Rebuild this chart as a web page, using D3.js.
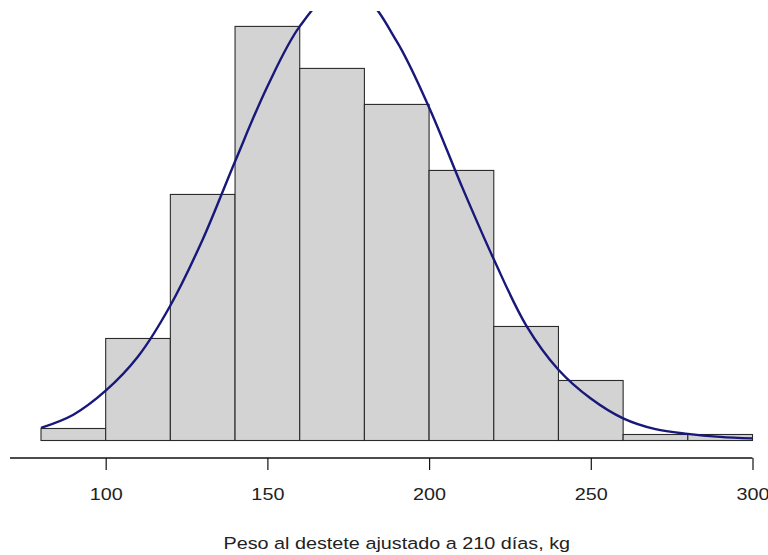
<!DOCTYPE html>
<html>
<head>
<meta charset="utf-8">
<script src="https://cdn.jsdelivr.net/npm/d3@7"></script>
<style>
  body { margin: 0; background: #fff; }
  svg { display: block; }
</style>
</head>
<body>
<div id="chart"></div>
<script>
// Histogram bins (kg) and counts
const binEdges = [80, 100, 120, 140, 160, 180, 200, 220, 240, 260, 280, 300];
const binCounts = [2, 17, 41, 69, 62, 56, 45, 19, 10, 1, 1];

const curveX = [80, 90, 100, 110, 120, 130, 140, 150, 160, 170, 180, 190, 200, 210, 220, 230, 240, 250, 260, 270, 280, 290, 300];
const curveY = [2.1, 4.3, 8.3, 14, 22.5, 33.5, 46.5, 59, 69, 74.5, 73.8, 66.5, 55.5, 42.5, 30.2, 19.2, 11.8, 7.0, 3.7, 1.9, 1.1, 0.6, 0.35];

const tickValues = [100, 150, 200, 250, 300];
const xLabel = 'Peso al destete ajustado a 210 días, kg';

const width = 768, height = 555;
const stretch = 1.2;   // text in the source is widened horizontally

const svg = d3.select('#chart')
    .append('svg')
    .attr('width', width)
    .attr('height', height);

const x = d3.scaleLinear().domain([80, 300]).range([41, 752.5]);
const y = d3.scaleLinear().domain([0, 73.4]).range([440.5, 0]);

// plot region clip (the curve runs past the top of the plot area)
svg.append('defs').append('clipPath')
    .attr('id', 'plot-clip')
    .append('rect')
    .attr('x', 0)
    .attr('y', 11)
    .attr('width', width)
    .attr('height', 445);

const bins = binCounts.map((c, i) => ({ x0: binEdges[i], x1: binEdges[i + 1], count: c }));

// bars
svg.selectAll('.bar')
    .data(bins)
    .enter()
    .append('rect')
    .attr('class', 'bar')
    .attr('x', d => x(d.x0))
    .attr('y', d => y(d.count))
    .attr('width', d => x(d.x1) - x(d.x0))
    .attr('height', d => y(0) - y(d.count))
    .attr('fill', '#d3d3d3')
    .attr('stroke', '#2b2b2b')
    .attr('stroke-width', 1.1);

// normal curve
const pts = curveX.map((v, i) => [v, curveY[i]]);
svg.append('path')
    .datum(pts)
    .attr('clip-path', 'url(#plot-clip)')
    .attr('fill', 'none')
    .attr('stroke', '#18187a')
    .attr('stroke-width', 2.4)
    .attr('d', d3.line()
        .x(d => x(d[0]))
        .y(d => y(d[1]))
        .curve(d3.curveCatmullRom.alpha(0.5)));

// x axis
const axisY = 458;
const axis = svg.append('g')
    .attr('transform', `translate(0,${axisY})`)
    .call(d3.axisBottom(x).tickValues(tickValues).tickSize(12).tickSizeOuter(0));

axis.select('.domain').remove();
axis.append('line')
    .attr('x1', 10)
    .attr('x2', x(300))
    .attr('stroke', '#111')
    .attr('stroke-width', 1.3);
axis.selectAll('.tick line').attr('stroke', '#111').attr('stroke-width', 1.2);
axis.selectAll('.tick text')
    .attr('y', 42)
    .attr('dy', 0)
    .attr('transform', `scale(${stretch},1)`)
    .style('font-family', '"Liberation Sans", Arial, sans-serif')
    .style('font-size', '16.5px')
    .attr('fill', '#222');

// axis title
svg.append('text')
    .attr('transform', `translate(${(x(80) + x(300)) / 2},549) scale(${stretch},1)`)
    .attr('text-anchor', 'middle')
    .style('font-family', '"Liberation Sans", Arial, sans-serif')
    .style('font-size', '16.5px')
    .attr('fill', '#222')
    .text(xLabel);
</script>
</body>
</html>
